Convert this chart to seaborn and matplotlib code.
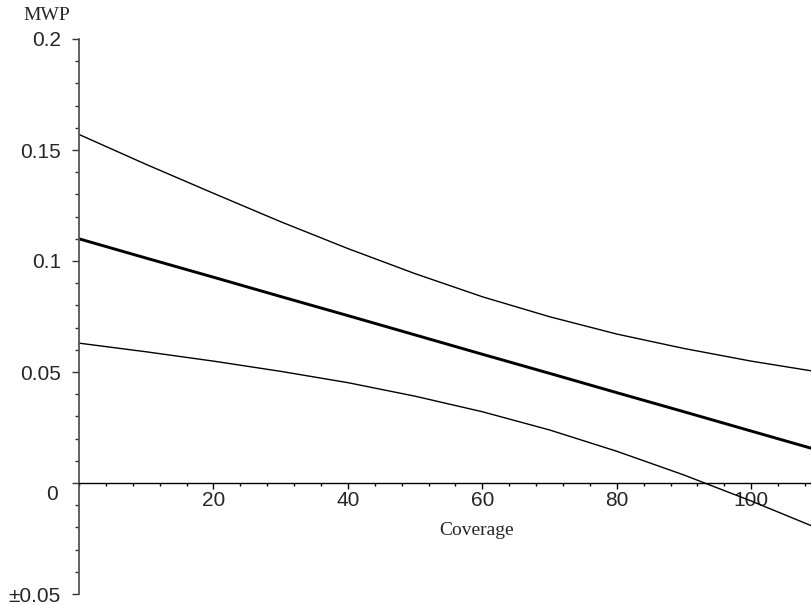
import matplotlib
matplotlib.use("Agg")
import matplotlib.pyplot as plt
import matplotlib.transforms as mtransforms
from matplotlib.ticker import MultipleLocator, FixedLocator
import seaborn as sns

# values
coverage = [0, 10, 20, 30, 40, 50, 60, 70, 80, 90, 100, 109]
mwp_fit = [0.110, 0.1013, 0.0927, 0.0840, 0.0754, 0.0667, 0.0580, 0.0494, 0.0407, 0.0321, 0.0234, 0.0156]
mwp_upper = [0.157, 0.1435, 0.1305, 0.1177, 0.1056, 0.0943, 0.0839, 0.0749, 0.0671, 0.0606, 0.0549, 0.0505]
mwp_lower = [0.063, 0.0591, 0.0549, 0.0503, 0.0452, 0.0391, 0.0321, 0.0239, 0.0143, 0.0036, -0.0081, -0.0193]

x_ticks = [20, 40, 60, 80, 100]
y_ticks = [-0.05, 0, 0.05, 0.1, 0.15, 0.2]
y_tick_labels = ["\u00b10.05", "0", "0.05", "0.1", "0.15", "0.2"]

sns.set_style("white")
plt.rcParams["font.family"] = ["Liberation Sans", "DejaVu Sans"]

fig = plt.figure(figsize=(8.11, 6.05), dpi=100)
ax = fig.add_axes([79 / 811, 11 / 605, 732 / 811, 555 / 605])

sns.lineplot(x=coverage, y=mwp_upper, ax=ax, color="black", lw=1.0)
sns.lineplot(x=coverage, y=mwp_fit, ax=ax, color="black", lw=2.1)
sns.lineplot(x=coverage, y=mwp_lower, ax=ax, color="black", lw=1.0)

ax.set_xlim(0, 108.9)
ax.set_ylim(-0.05, 0.2)

for s in ["top", "right"]:
    ax.spines[s].set_visible(False)
ax.spines["bottom"].set_position(("data", 0))
ax.spines["bottom"].set_color("black")
ax.spines["bottom"].set_linewidth(1.0)
ax.spines["left"].set_color("#555555")
ax.spines["left"].set_linewidth(1.3)

ax.xaxis.set_major_locator(FixedLocator(x_ticks))
ax.xaxis.set_minor_locator(MultipleLocator(4))
ax.set_xticklabels([str(v) for v in x_ticks])
ax.yaxis.set_major_locator(FixedLocator(y_ticks))
ax.yaxis.set_minor_locator(MultipleLocator(0.01))
ax.set_yticklabels(y_tick_labels)

ax.tick_params(axis="x", which="major", direction="out", length=4, width=1,
               labelsize=15, pad=2, color="black", bottom=True)
ax.tick_params(axis="x", which="minor", direction="out", length=2.5, width=1,
               color="black", bottom=True)
ax.tick_params(axis="y", which="major", direction="out", length=5, width=1,
               labelsize=15, pad=8, color="#333333", left=True)
ax.tick_params(axis="y", which="minor", direction="out", length=3, width=1,
               color="#333333", left=True)

# Maple drops the "0" label slightly below the x axis
for lbl in ax.get_yticklabels():
    if lbl.get_text() == "0":
        lbl.set_transform(lbl.get_transform() +
                          mtransforms.ScaledTranslation(-3 / 100, -9 / 100, fig.dpi_scale_trans))

ax.text(-4.8, 0.2105, "MWP", family="Liberation Serif", fontsize=14,
        ha="center", va="center", clip_on=False)
ax.text(59.2, -0.0212, "Coverage", family="Liberation Serif", fontsize=14,
        ha="center", va="center")

fig.savefig("out.png", dpi=100)
